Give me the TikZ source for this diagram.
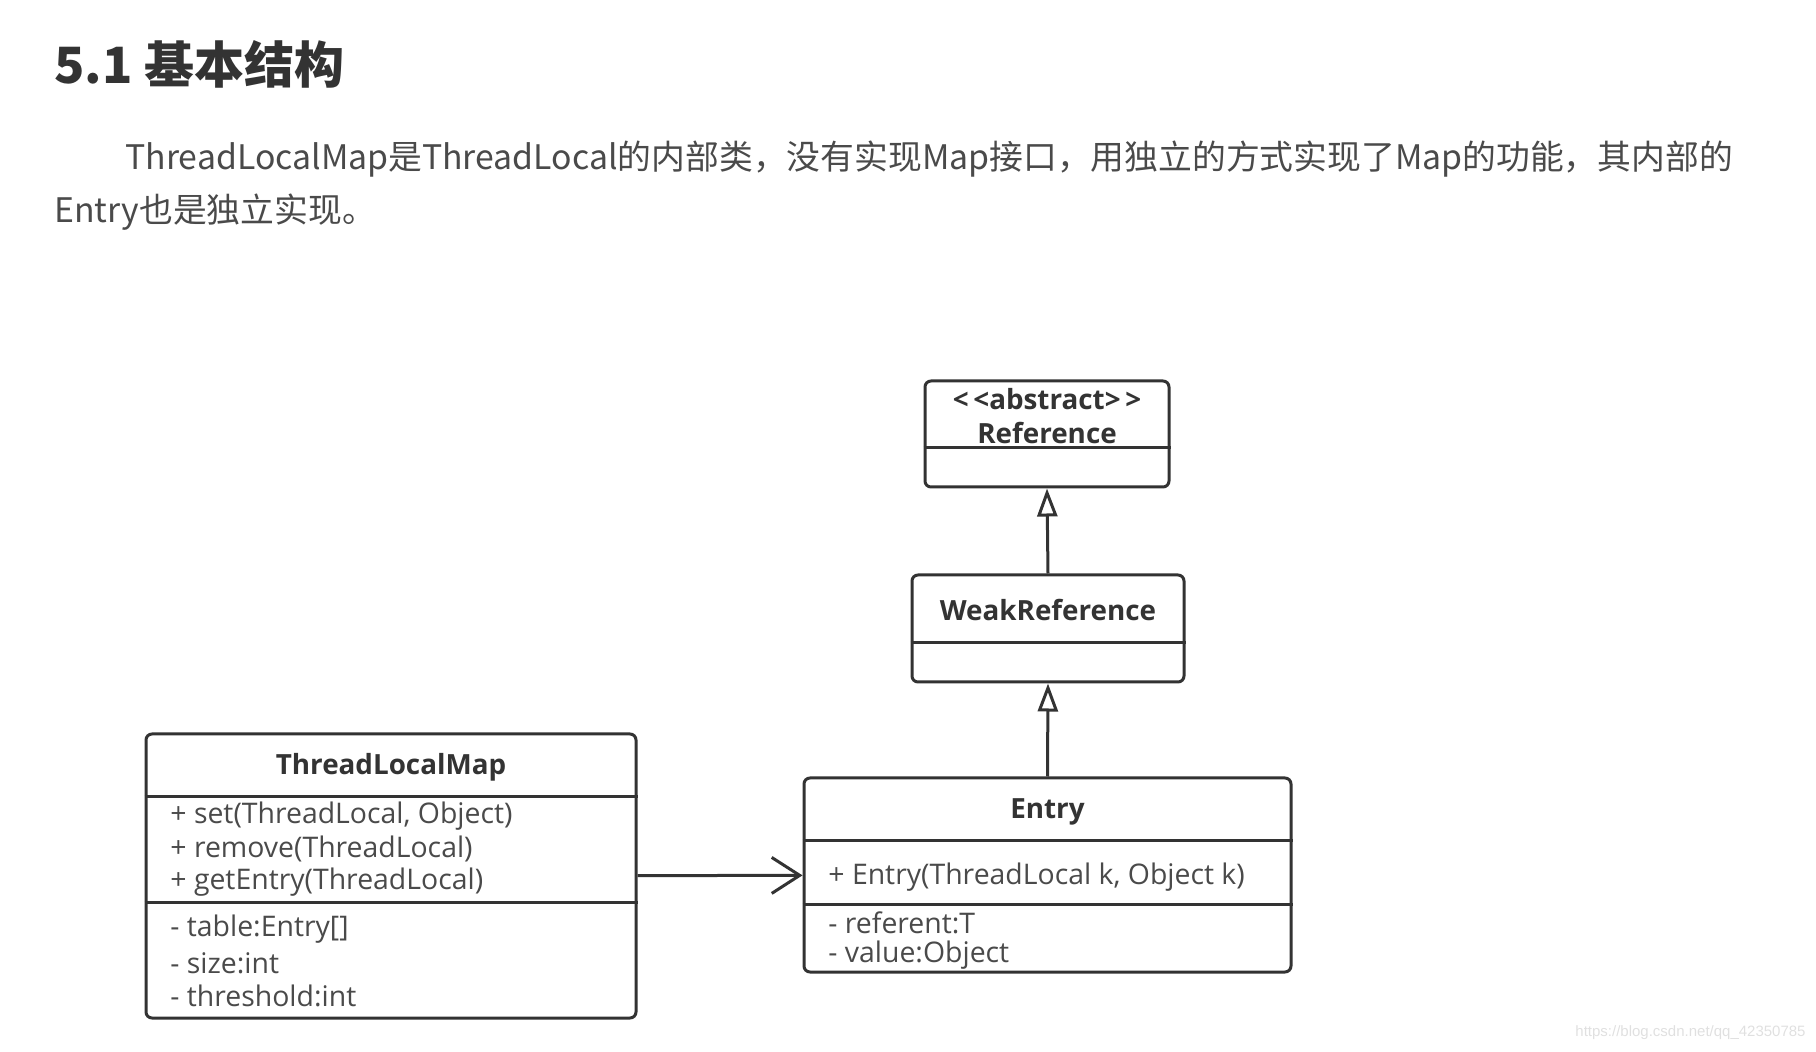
\documentclass[tikz,border=0pt]{standalone}
\usepackage{fontspec}
\setmainfont{Open Sans}
\newfontfamily\cjk{Noto Sans CJK SC}
\newfontfamily\webfont{Liberation Sans}
\usetikzlibrary{arrows.meta}
\definecolor{ink}{HTML}{333333}
\definecolor{para}{HTML}{4A4A4A}

\begin{document}
\begin{tikzpicture}[x=0.5pt, y=-0.5pt,
    cls/.style={draw=ink, line width=1.5pt, rounded corners=3pt,
                inner sep=0pt, fill=white},
    clsname/.style={font=\bfseries\fontsize{13.9}{16}\selectfont,
                    text=ink, inner sep=0pt},
    member/.style={font=\fontsize{14.2}{16}\selectfont, text=para,
                   anchor=west, inner sep=0pt},
    divider/.style={draw=ink, line width=1.5pt},
    inherit/.style={-{Triangle[open, length=14pt, width=10pt, fill=white]},
                    draw=ink, line width=1.5pt},
    assoc/.style={-{Straight Barb[length=14pt, width=18pt]},
                  draw=ink, line width=1.5pt},
]
    \useasboundingbox (0,0) rectangle (1816,1052);

    % heading and text
    \node[anchor=west, inner sep=0pt, text=ink,
          font=\cjk\bfseries\fontsize{25}{30}\selectfont] (heading) at (54,64) {5.1 基本结构};
    \node[anchor=west, inner sep=0pt, text=para,
          font=\cjk\fontsize{16.9}{20}\selectfont] (intro1) at (125,159)
          {ThreadLocalMap是ThreadLocal的内部类，没有实现Map接口，用独立的方式实现了Map的功能，其内部的};
    \node[anchor=west, inner sep=0pt, text=para,
          font=\cjk\fontsize{16.9}{20}\selectfont] (intro2) at (54,212) {Entry也是独立实现。};

    % classes
    \node[cls, minimum width=122pt, minimum height=53pt] (ref) at (1047,434) {};
    \node[clsname] (refstereo) at (1047,399) {<\,<abstract>\,>};
    \node[clsname] (refname) at (1047,433) {Reference};
    \draw[divider] (ref.west |- 0,448) -- (ref.east |- 0,448);

    \node[cls, minimum width=136pt, minimum height=53.5pt] (weak) at (1048,628.5) {};
    \node[clsname] (weakname) at (1048,610) {WeakReference};
    \draw[divider] (weak.west |- 0,643) -- (weak.east |- 0,643);

    \node[cls, minimum width=243.5pt, minimum height=97pt] (entry) at (1047.5,875) {};
    \node[clsname] (entryname) at (1047.5,812) {Entry};
    \draw[divider] (entry.west |- 0,841) -- (entry.east |- 0,841);
    \node[member] (entryctor) at (828,877) {+ Entry(ThreadLocal k, Object k)};
    \draw[divider] (entry.west |- 0,905) -- (entry.east |- 0,905);
    \node[member] (referent) at (828,923) {- referent:T};
    \node[member] (value) at (828,955) {- value:Object};

    \node[cls, minimum width=245pt, minimum height=142pt] (tlm) at (391,876) {};
    \node[clsname] (tlmname) at (391,767) {ThreadLocalMap};
    \draw[divider] (tlm.west |- 0,797) -- (tlm.east |- 0,797);
    \node[member] (set) at (170,816) {+ set(ThreadLocal, Object)};
    \node[member] (remove) at (170,849) {+ remove(ThreadLocal)};
    \node[member] (getentry) at (170,882) {+ getEntry(ThreadLocal)};
    \draw[divider] (tlm.west |- 0,903) -- (tlm.east |- 0,903);
    \node[member] (table) at (170,929) {- table:Entry[]};
    \node[member] (size) at (170,963) {- size:int};
    \node[member] (threshold) at (170,996) {- threshold:int};

    % relations
    \draw[inherit] (weak.north) -- (ref.south);
    \draw[inherit] (entry.north) -- (weak.south);
    \draw[assoc] (tlm) -- (entry);

    \node[anchor=east, inner sep=0pt, text=black!12,
          font=\webfont\fontsize{7.5}{9}\selectfont] (mark) at (1806,1033)
          {https://blog.csdn.net/qq\_42350785};

\end{tikzpicture}
\end{document}
